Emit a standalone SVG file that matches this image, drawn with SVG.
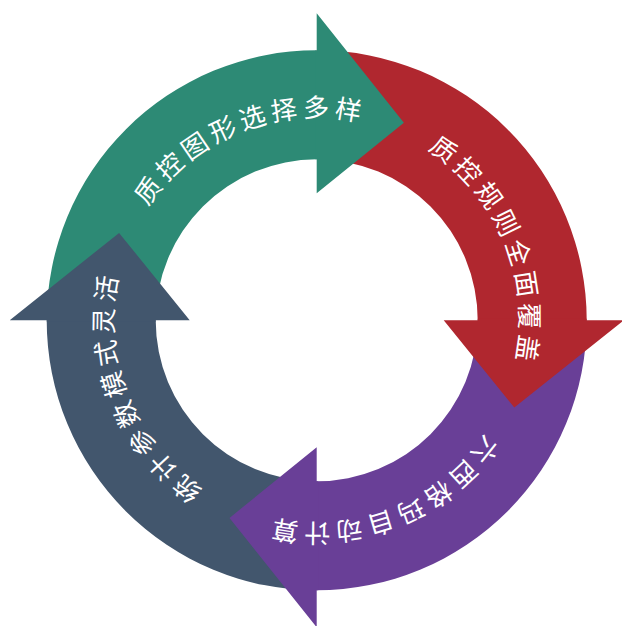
<svg xmlns="http://www.w3.org/2000/svg" width="622" height="626" viewBox="0 0 622 626">
<defs>
<style>
.green{fill:#2D8A75}
.red{fill:#B0272F}
.purple{fill:#693F97}
.slate{fill:#42566D}
.lbl{font-family:"Noto Sans CJK SC","Noto Sans CJK JP",sans-serif;font-size:26px;fill:#FFFFFF;letter-spacing:6.7px}
</style>
<path id="tp-green" d="M 110.0,379.6 A 215 215 0 0 1 509.9,226.0"/>
<path id="tp-red" d="M 253.8,114.7 A 215 215 0 0 1 414.3,511.9"/>
<path id="tp-purple" d="M 523.4,261.0 A 215 215 0 0 1 123.5,414.6"/>
<path id="tp-slate" d="M 376.0,527.0 A 215 215 0 0 1 222.4,127.1"/>
</defs>
<rect width="622" height="626" fill="#FFFFFF"/>
<g id="connectors">
<path class="green" d="M 46.7,320.3 A 270 270 0 0 1 316.7,50.3 L 316.7,159.3 A 161 161 0 0 0 155.7,320.3 Z"/>
<path class="red" d="M 316.7,50.3 A 270 270 0 0 1 586.7,320.3 L 477.7,320.3 A 161 161 0 0 0 316.7,159.3 Z"/>
<path class="purple" d="M 586.7,320.3 A 270 270 0 0 1 316.7,590.3 L 316.7,481.3 A 161 161 0 0 0 477.7,320.3 Z"/>
<path class="slate" d="M 316.7,590.3 A 270 270 0 0 1 46.7,320.3 L 155.7,320.3 A 161 161 0 0 0 316.7,481.3 Z"/>
<polygon class="green" points="316.7,13.3 403.9,122.7 316.7,193.3 316.7,159.3 315.2,159.3 315.2,50.4 316.7,50.4"/>
<polygon class="red" points="623.7,320.3 514.3,407.5 443.7,320.3 477.7,320.3 477.7,318.8 586.6,318.8 586.6,320.3"/>
<polygon class="purple" points="316.7,627.3 229.5,517.9 316.7,447.3 316.7,481.3 318.2,481.3 318.2,590.2 316.7,590.2"/>
<polygon class="slate" points="9.7,320.3 119.1,232.9 189.7,320.3 155.7,320.3 155.7,321.8 46.8,321.8 46.8,320.3"/>
</g>
<g id="node-green">
<text class="lbl" dominant-baseline="central"><textPath href="#tp-green" startOffset="50%" text-anchor="middle">质控图形选择多样</textPath></text>
</g>
<g id="node-red">
<text class="lbl" dominant-baseline="central"><textPath href="#tp-red" startOffset="50%" text-anchor="middle">质控规则全面覆盖</textPath></text>
</g>
<g id="node-purple">
<text class="lbl" dominant-baseline="central"><textPath href="#tp-purple" startOffset="50%" text-anchor="middle">六西格玛自动计算</textPath></text>
</g>
<g id="node-slate">
<text class="lbl" dominant-baseline="central"><textPath href="#tp-slate" startOffset="50%" text-anchor="middle">统计参数模式灵活</textPath></text>
</g>
</svg>
